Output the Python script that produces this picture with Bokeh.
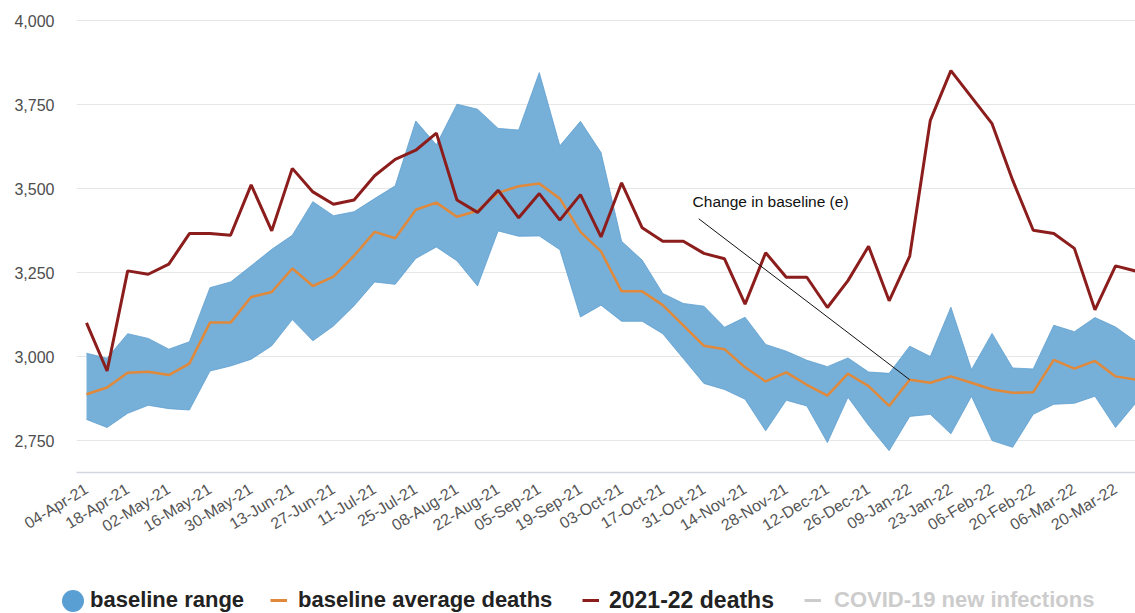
import math
from bokeh.plotting import figure
from bokeh.layouts import column
from bokeh.models import (Range1d, FixedTicker, NumeralTickFormatter, ColumnDataSource,
                          Legend, LegendItem)
from bokeh.embed import file_html
from bokeh.resources import INLINE
from bokeh.core.properties import value

# ---------------- data (weekly, 04-Apr-21 .. 27-Mar-22) ----------------
tick_labels = ["04-Apr-21", "18-Apr-21", "02-May-21", "16-May-21", "30-May-21", "13-Jun-21",
               "27-Jun-21", "11-Jul-21", "25-Jul-21", "08-Aug-21", "22-Aug-21", "05-Sep-21",
               "19-Sep-21", "03-Oct-21", "17-Oct-21", "31-Oct-21", "14-Nov-21", "28-Nov-21",
               "12-Dec-21", "26-Dec-21", "09-Jan-22", "23-Jan-22", "06-Feb-22", "20-Feb-22",
               "06-Mar-22", "20-Mar-22"]

baseline_low = [2813, 2789, 2831, 2855, 2845, 2841, 2957, 2972, 2992, 3032,
                3110, 3047, 3091, 3151, 3222, 3215, 3292, 3326, 3285, 3210,
                3374, 3358, 3359, 3318, 3118, 3153, 3105, 3105, 3068, 2994,
                2920, 2902, 2873, 2779, 2870, 2853, 2744, 2879, 2795, 2720,
                2822, 2828, 2770, 2882, 2750, 2730, 2828, 2858, 2861, 2882,
                2789, 2863]

baseline_high = [3010, 2995, 3068, 3054, 3022, 3044, 3205, 3222, 3270, 3319,
                 3361, 3461, 3419, 3431, 3470, 3508, 3701, 3630, 3751, 3736,
                 3679, 3674, 3845, 3627, 3700, 3607, 3343, 3287, 3188, 3158,
                 3150, 3087, 3117, 3036, 3016, 2989, 2970, 2996, 2954, 2950,
                 3031, 3000, 3147, 2961, 3069, 2966, 2963, 3093, 3074, 3116,
                 3088, 3044]

baseline_avg = [2888, 2908, 2952, 2955, 2945, 2979, 3101, 3101, 3177, 3192,
                3262, 3210, 3238, 3300, 3371, 3352, 3437, 3458, 3416, 3434,
                3487, 3507, 3515, 3470, 3371, 3313, 3194, 3194, 3153, 3093,
                3032, 3022, 2968, 2926, 2953, 2916, 2884, 2949, 2912, 2853,
                2931, 2922, 2941, 2922, 2902, 2892, 2894, 2990, 2964, 2987,
                2941, 2931]

deaths_2122 = [3100, 2957, 3255, 3245, 3275, 3366, 3366, 3361, 3511, 3374,
               3560, 3490, 3453, 3466, 3538, 3587, 3614, 3665, 3466, 3429,
               3495, 3413, 3485, 3406, 3482, 3356, 3517, 3383, 3343, 3343,
               3307, 3291, 3156, 3309, 3236, 3236, 3146, 3226, 3328, 3166,
               3299, 3703, 3851, 3772, 3693, 3525, 3376, 3366, 3322, 3139,
               3270, 3254]

y_ticks = [2750, 3000, 3250, 3500, 3750, 4000]

annotation_text = "Change in baseline (e)"
annotation_label_pos = (29.45, 3461)     # week index, deaths
annotation_line_start = (29.75, 3410)
annotation_target_week = 40               # points to the baseline average at 09-Jan-22

legend_labels = ["baseline range", "baseline average deaths", "2021-22 deaths",
                 "COVID-19 new infections"]

# ---------------- colours / styles ----------------
BAND = "#76b0d9"
BAND_EDGE = "#5f9fcf"
AVG = "#e0893b"
RED = "#8c1d1d"
FONT = "Liberation Sans"

weeks = list(range(len(deaths_2122)))
src = ColumnDataSource(dict(week=weeks, low=baseline_low, high=baseline_high,
                            avg=baseline_avg, deaths=deaths_2122))

p = figure(width=1135, height=560, output_backend="svg", toolbar_location=None,
           x_range=Range1d(-0.486, 50.97), y_range=Range1d(2655, 4006),
           min_border_left=76, min_border_right=0, min_border_top=18, min_border_bottom=88)
p.outline_line_color = None
p.background_fill_color = "white"
p.border_fill_color = "white"

# band
p.varea(x="week", y1="low", y2="high", source=src, fill_color=BAND, fill_alpha=1.0)
p.line("week", "high", source=src, line_color=BAND_EDGE, line_width=1, line_alpha=0.8)
p.line("week", "low", source=src, line_color=BAND_EDGE, line_width=1, line_alpha=0.8)

p.line("week", "avg", source=src, line_color=AVG, line_width=2.5)
p.line("week", "deaths", source=src, line_color=RED, line_width=3)

# annotation
p.segment(x0=[annotation_line_start[0]], y0=[annotation_line_start[1]],
          x1=[annotation_target_week], y1=[baseline_avg[annotation_target_week]],
          line_color="#111111", line_width=1)
p.text(x=[annotation_label_pos[0]], y=[annotation_label_pos[1]], text=[annotation_text],
       text_font=value(FONT), text_font_size="15.5px", text_color="#111111",
       text_align="left", text_baseline="middle")

# axes
p.xgrid.visible = False
p.ygrid.grid_line_color = "#e6e6e6"
p.ygrid.grid_line_width = 1

p.yaxis.ticker = FixedTicker(ticks=y_ticks)
p.yaxis.formatter = NumeralTickFormatter(format="0,0")
p.yaxis.axis_line_color = None
p.yaxis.major_tick_line_color = None
p.yaxis.minor_tick_line_color = None
p.yaxis.major_tick_out = 0
p.yaxis.major_label_standoff = 22
p.yaxis.major_label_text_font = FONT
p.yaxis.major_label_text_font_size = "16px"
p.yaxis.major_label_text_color = "#4d4d4d"

tick_weeks = weeks[::2]
p.xaxis.ticker = FixedTicker(ticks=tick_weeks)
p.xaxis.major_label_overrides = {w: lbl for w, lbl in zip(tick_weeks, tick_labels)}
p.xaxis.major_label_orientation = 0.55
p.xaxis.axis_line_color = "#d3d6e0"
p.xaxis.axis_line_width = 1.5
p.xaxis.major_tick_line_color = None
p.xaxis.minor_tick_line_color = None
p.xaxis.major_tick_out = 0
p.xaxis.major_label_standoff = 15
p.xaxis.major_label_text_font = FONT
p.xaxis.major_label_text_font_size = "16px"
p.xaxis.major_label_text_color = "#555555"

# ---------------- legend strip (own small figure) ----------------
leg = figure(width=1135, height=53, output_backend="svg", toolbar_location=None,
             x_range=Range1d(0, 1), y_range=Range1d(0, 1),
             x_axis_location=None, y_axis_location=None,
             min_border_left=0, min_border_right=0, min_border_top=0, min_border_bottom=0)
leg.grid.visible = False
leg.outline_line_color = None
leg.background_fill_color = "white"
leg.border_fill_color = "white"

# keep the legend strip's frame full width (do not align it with the chart's frame)
frame_free = "frame_align" in leg.properties()
if frame_free:
    leg.frame_align = False
    p.frame_align = False
X_OFF = 0 if frame_free else 76

# legend symbols only (NaN placeholders: nothing plotted, they just style the legend glyphs)
leg_src = ColumnDataSource(dict(x=[0], y=[float("nan")]))
sym_range = leg.scatter("x", "y", source=leg_src, marker="circle",
                        fill_color="#5a9fd4", line_color=None)
sym_none = leg.line("x", "y", source=leg_src, line_alpha=0)
sym_avg = leg.line("x", "y", source=leg_src, line_color=AVG, line_width=3)
sym_red = leg.line("x", "y", source=leg_src, line_color=RED, line_width=3)
sym_covid = leg.line("x", "y", source=leg_src, line_color="#cccccc", line_width=3)


def make_legend(label, renderer, loc, gw, gh, standoff, color="#222222", size="22px"):
    lg = Legend(items=[LegendItem(label=label, renderers=[renderer])],
                location=(loc[0] - X_OFF, loc[1]),
                orientation="horizontal", glyph_width=gw, glyph_height=gh,
                label_standoff=standoff, padding=0, margin=0, spacing=0,
                border_line_color=None, background_fill_alpha=0)
    lg.label_text_font = FONT
    lg.label_text_font_style = "bold"
    lg.label_text_font_size = size
    lg.label_text_color = color
    return lg


leg.add_layout(make_legend(" ", sym_range, (44.5, -14.5), 55, 55, 0))
leg.add_layout(make_legend(legend_labels[0], sym_none, (89, -2), 1, 30, 0))
leg.add_layout(make_legend(legend_labels[1], sym_avg, (270, -2), 17, 30, 11))
leg.add_layout(make_legend(legend_labels[2], sym_red, (582, -2), 17, 30, 10, size="23px"))
leg.add_layout(make_legend(legend_labels[3], sym_covid, (804, -2), 17, 30, 13,
                           color="#cccccc"))

layout = column(p, leg, spacing=0)
open("out.html", "w").write(file_html(layout, INLINE))
